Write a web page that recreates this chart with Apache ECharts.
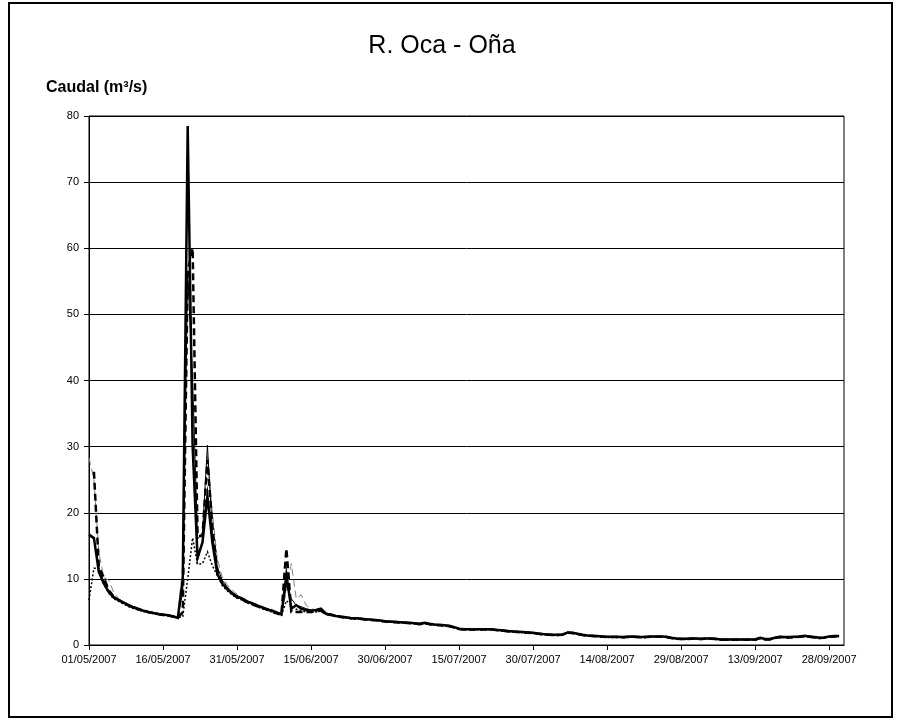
<!DOCTYPE html>
<html>
<head>
<meta charset="utf-8">
<script src="https://cdn.jsdelivr.net/npm/echarts@6/dist/echarts.min.js"></script>
<style>
html,body{margin:0;padding:0;background:#fff;}
#chart{width:900px;height:722px;}
</style>
</head>
<body>
<div id="chart"></div>
<script>
// ---- categories: daily dates 01/05/2007 .. 01/10/2007 ----
const startDate = [2007, 4, 1]; // year, month index (May), day
const dayCount = 154;
const dates = [];
for (let i = 0; i < dayCount; i++) {
  const d = new Date(Date.UTC(startDate[0], startDate[1], startDate[2] + i));
  const dd = String(d.getUTCDate()).padStart(2, '0');
  const mm = String(d.getUTCMonth() + 1).padStart(2, '0');
  dates.push(dd + '/' + mm + '/' + d.getUTCFullYear());
}

const yTicks = [0, 10, 20, 30, 40, 50, 60, 70, 80];

// ---- series values (m3/s), days 0..48 (head) and 49..152 (tail) ----
// Thick solid
const thickSolidHead = [
  16.7, 16.2, 11.0, 9.3, 8.0, 7.2, 6.8, 6.4, 6.0, 5.7,
  5.45, 5.2, 5.0, 4.85, 4.7, 4.6, 4.5, 4.35, 4.1, 10.0,
  78.5, 30.0, 13.2, 15.5, 22.5, 15.5, 10.8, 9.3, 8.5, 7.8,
  7.3, 7.0, 6.6, 6.3, 6.0, 5.7, 5.4, 5.2, 4.9, 4.6,
  10.6, 5.5, 6.0, 5.5, 5.3, 5.2, 5.3, 5.5, 4.7
];
const thickSolidTail = [
  4.6, 4.4, 4.3, 4.2, 4.1, 4.05, 4.0, 3.9, 3.85, 3.8,
  3.7, 3.6, 3.55, 3.5, 3.45, 3.4, 3.35, 3.3, 3.2, 3.35,
  3.2, 3.1, 3.05, 3.0, 2.9, 2.7, 2.45, 2.4, 2.4, 2.4,
  2.4, 2.4, 2.4, 2.35, 2.25, 2.2, 2.1, 2.05, 2.0, 1.95,
  1.9, 1.85, 1.75, 1.65, 1.6, 1.55, 1.55, 1.6, 1.9, 1.85,
  1.7, 1.55, 1.45, 1.4, 1.35, 1.3, 1.25, 1.25, 1.25, 1.2,
  1.25, 1.3, 1.25, 1.2, 1.25, 1.3, 1.3, 1.3, 1.25, 1.1,
  1.0, 0.95, 0.95, 1.0, 1.0, 0.95, 1.0, 1.0, 0.95, 0.85,
  0.85, 0.85, 0.85, 0.85, 0.85, 0.85, 0.85, 1.1, 0.9, 0.9,
  1.1, 1.25, 1.2, 1.2, 1.25, 1.3, 1.4, 1.3, 1.2, 1.1,
  1.15, 1.3, 1.35, 1.35
];
// Thin solid
const thinSolidHead = [
  16.5, 16.0, 11.5, 9.6, 8.2, 7.4, 6.9, 6.5, 6.1, 5.8,
  5.5, 5.25, 5.05, 4.9, 4.75, 4.6, 4.5, 4.35, 4.2, 8.0,
  56.5, 40.0, 16.0, 17.0, 30.2, 17.0, 11.8, 9.8, 8.8, 8.0,
  7.5, 7.1, 6.7, 6.4, 6.1, 5.8, 5.5, 5.3, 5.0, 4.8,
  9.0, 7.0, 6.0, 5.8, 5.5, 5.3, 5.2, 5.4, 4.8
];
const thinSolidTail = [
  4.65, 4.45, 4.3, 4.2, 4.1, 4.05, 4.0, 3.9, 3.85, 3.8,
  3.7, 3.6, 3.55, 3.5, 3.45, 3.4, 3.35, 3.3, 3.25, 3.3,
  3.2, 3.1, 3.05, 3.0, 2.9, 2.7, 2.5, 2.4, 2.4, 2.4,
  2.4, 2.4, 2.4, 2.35, 2.3, 2.2, 2.1, 2.05, 2.0, 1.95,
  1.9, 1.85, 1.75, 1.65, 1.6, 1.55, 1.55, 1.6, 1.85, 1.8,
  1.7, 1.55, 1.45, 1.4, 1.35, 1.3, 1.25, 1.25, 1.25, 1.2,
  1.25, 1.3, 1.25, 1.2, 1.25, 1.3, 1.3, 1.3, 1.25, 1.1,
  1.0, 0.95, 0.95, 1.0, 1.0, 0.95, 1.0, 1.0, 0.95, 0.85,
  0.85, 0.85, 0.85, 0.85, 0.85, 0.85, 0.85, 1.05, 0.9, 0.9,
  1.1, 1.25, 1.2, 1.2, 1.25, 1.3, 1.35, 1.3, 1.2, 1.1,
  1.15, 1.3, 1.35, 1.35
];
// Thick dashed
const thickDashHead = [
  null, 26.2, 11.8, 10.2, 8.3, 7.3, 6.8, 6.4, 6.0, 5.7,
  5.4, 5.2, 5.0, 4.85, 4.7, 4.55, 4.45, 4.3, 4.1, 5.0,
  56.5, 60.0, 16.5, 16.5, 28.0, 18.0, 11.3, 9.3, 8.5, 7.8,
  7.2, 6.9, 6.5, 6.2, 5.9, 5.6, 5.4, 5.1, 4.8, 4.6,
  14.6, 5.0, 5.0, 5.0, 5.0, 5.0, 5.1, 5.2, 4.7
];
const thickDashTail = [
  4.55, 4.35, 4.25, 4.15, 4.05, 4.0, 3.95, 3.85, 3.8, 3.75,
  3.65, 3.55, 3.5, 3.45, 3.4, 3.35, 3.3, 3.25, 3.15, 3.3,
  3.15, 3.05, 3.0, 2.95, 2.85, 2.65, 2.4, 2.35, 2.35, 2.35,
  2.35, 2.35, 2.35, 2.3, 2.2, 2.15, 2.05, 2.0, 1.95, 1.9,
  1.85, 1.8, 1.7, 1.6, 1.55, 1.5, 1.5, 1.55, 1.85, 1.8,
  1.65, 1.5, 1.4, 1.35, 1.3, 1.25, 1.2, 1.2, 1.2, 1.15,
  1.2, 1.25, 1.2, 1.15, 1.2, 1.25, 1.25, 1.25, 1.2, 1.05,
  0.95, 0.9, 0.9, 0.95, 0.95, 0.9, 0.95, 0.95, 0.9, 0.8,
  0.8, 0.8, 0.8, 0.8, 0.8, 0.8, 0.8, 1.05, 0.85, 0.85,
  1.05, 1.2, 1.15, 1.15, 1.2, 1.25, 1.35, 1.25, 1.15, 1.05,
  1.1, 1.25, 1.3, 1.3
];
// Thin grey dashed
const thinDashHead = [
  28.3, 25.0, 14.0, 10.2, 9.8, 8.0, 7.0, 6.6, 6.2, 5.9,
  5.6, 5.35, 5.1, 4.95, 4.8, 4.65, 4.55, 4.4, 4.3, 12.0,
  73.0, 35.0, 12.5, 16.0, 28.5, 20.0, 13.0, 10.3, 9.1, 8.3,
  7.7, 7.2, 6.8, 6.5, 6.2, 5.9, 5.6, 5.4, 5.1, 4.9,
  8.0, 12.3, 7.0, 7.6, 6.0, 5.5, 5.3, 5.6, 5.0
];
const thinDashTail = [
  4.7, 4.5, 4.35, 4.25, 4.15, 4.1, 4.05, 3.95, 3.9, 3.85,
  3.75, 3.65, 3.6, 3.55, 3.5, 3.45, 3.4, 3.35, 3.25, 3.4,
  3.25, 3.15, 3.1, 3.05, 2.95, 2.75, 2.5, 2.45, 2.45, 2.45,
  2.45, 2.45, 2.45, 2.4, 2.3, 2.25, 2.15, 2.1, 2.05, 2.0,
  1.95, 1.9, 1.8, 1.7, 1.65, 1.6, 1.6, 1.65, 1.95, 1.9,
  1.75, 1.6, 1.5, 1.45, 1.4, 1.35, 1.3, 1.3, 1.3, 1.25,
  1.3, 1.35, 1.3, 1.25, 1.3, 1.35, 1.35, 1.35, 1.3, 1.15,
  1.05, 1.0, 1.0, 1.05, 1.05, 1.0, 1.05, 1.05, 1.0, 0.9,
  0.9, 0.9, 0.9, 0.9, 0.9, 0.9, 0.9, 1.15, 0.95, 0.95,
  1.15, 1.3, 1.25, 1.25, 1.3, 1.35, 1.45, 1.35, 1.25, 1.15,
  1.2, 1.35, 1.4, 1.4
];
// Dotted
const dottedHead = [
  6.8, 11.6, 11.6, 9.2, 7.8, 7.0, 6.6, 6.2, 5.8, 5.5,
  5.3, 5.05, 4.9, 4.75, 4.6, 4.5, 4.4, 4.25, 4.1, 4.3,
  10.0, 16.2, 12.2, 12.3, 14.1, 12.0, 10.5, 9.0, 8.2, 7.6,
  7.1, 6.8, 6.4, 6.1, 5.8, 5.5, 5.3, 5.0, 4.7, 4.5,
  6.7, 6.0, 5.4, 5.2, 5.0, 4.9, 5.0, 5.1, 4.6
];
const dottedTail = [
  4.5, 4.3, 4.2, 4.1, 4.0, 3.95, 3.9, 3.8, 3.75, 3.7,
  3.6, 3.5, 3.45, 3.4, 3.35, 3.3, 3.25, 3.2, 3.1, 3.2,
  3.1, 3.0, 2.95, 2.9, 2.8, 2.6, 2.35, 2.3, 2.3, 2.3,
  2.3, 2.3, 2.3, 2.25, 2.15, 2.1, 2.0, 1.95, 1.9, 1.85,
  1.8, 1.75, 1.65, 1.55, 1.5, 1.45, 1.45, 1.5, 1.8, 1.75,
  1.6, 1.45, 1.35, 1.3, 1.25, 1.2, 1.15, 1.15, 1.15, 1.1,
  1.15, 1.2, 1.15, 1.1, 1.15, 1.2, 1.2, 1.2, 1.15, 1.0,
  0.9, 0.85, 0.85, 0.9, 0.9, 0.85, 0.9, 0.9, 0.85, 0.75,
  0.75, 0.75, 0.75, 0.75, 0.75, 0.75, 0.75, 1.0, 0.8, 0.8,
  1.0, 1.15, 1.1, 1.1, 1.15, 1.2, 1.3, 1.2, 1.1, 1.0,
  1.05, 1.2, 1.25, 1.25
];

const thickSolid = thickSolidHead.concat(thickSolidTail);
const thinSolid = thinSolidHead.concat(thinSolidTail);
const thickDash = thickDashHead.concat(thickDashTail);
const thinDash = thinDashHead.concat(thinDashTail);
const dotted = dottedHead.concat(dottedTail);

const FONT = 'Liberation Sans, Arial, Helvetica, sans-serif';

const chart = echarts.init(document.getElementById('chart'), null, {renderer: 'canvas'});

function line(name, data, color, width, type) {
  return {
    name: name, type: 'line', data: data, symbol: 'none', connectNulls: false,
    lineStyle: {color: color, width: width, type: type, cap: 'butt', join: 'miter'},
    z: 3
  };
}

chart.setOption({
  animation: false,
  backgroundColor: '#ffffff',
  textStyle: {fontFamily: FONT},
  grid: {
    left: 89, top: 116, right: 56, bottom: 77,
    show: true, borderColor: '#000', borderWidth: 1, backgroundColor: 'transparent'
  },
  xAxis: {
    type: 'category',
    data: dates,
    boundaryGap: false,
    axisLine: {lineStyle: {color: '#000', width: 1}},
    axisTick: {show: true, interval: 14, length: 5, inside: false, lineStyle: {color: '#000'}},
    axisLabel: {interval: 14, color: '#000', fontSize: 11, fontFamily: FONT, margin: 9},
    splitLine: {show: false}
  },
  yAxis: {
    type: 'value',
    min: yTicks[0], max: yTicks[yTicks.length - 1], interval: 10,
    axisLine: {show: true, lineStyle: {color: '#000', width: 1}},
    axisTick: {show: true, length: 5, lineStyle: {color: '#000'}},
    axisLabel: {color: '#000', fontSize: 11, fontFamily: FONT, margin: 10},
    splitLine: {show: true, lineStyle: {color: '#000', width: 1}}
  },
  graphic: [
    {type: 'rect', shape: {x: 9, y: 3, width: 883, height: 714},
     style: {fill: 'none', stroke: '#000', lineWidth: 2}, silent: true},
    {type: 'text', x: 442, y: 46,
     style: {text: 'R. Oca - Oña', font: '25px ' + FONT, fill: '#000', align: 'center', verticalAlign: 'middle'}},
    {type: 'text', x: 46, y: 88,
     style: {text: 'Caudal (m³/s)', font: 'bold 16px ' + FONT, fill: '#000', align: 'left', verticalAlign: 'middle'}}
  ],
  series: [
    line('Serie 4', thinDash, '#808080', 1, [7, 4]),
    line('Serie 5', dotted, '#000', 1.5, [2, 2]),
    line('Serie 2', thinSolid, '#000', 1, 'solid'),
    line('Serie 3', thickDash, '#000', 2.5, [7, 4]),
    line('Serie 1', thickSolid, '#000', 2.5, 'solid')
  ]
});
</script>
</body>
</html>
